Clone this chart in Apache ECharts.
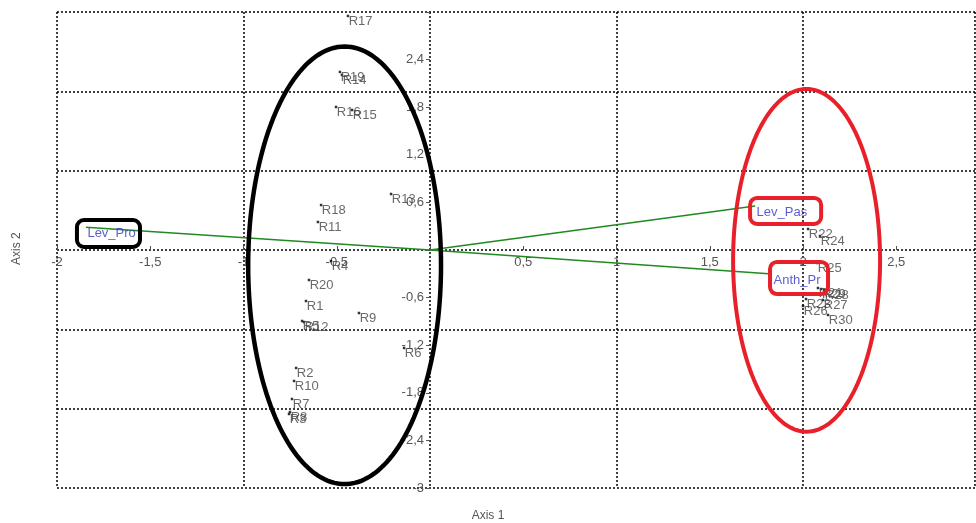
<!DOCTYPE html>
<html>
<head>
<meta charset="utf-8">
<script src="https://cdn.jsdelivr.net/npm/echarts@6/dist/echarts.min.js"></script>
<style>
  html, body { margin: 0; padding: 0; background: #fff; }
  #chart { width: 976px; height: 523px; }
</style>
</head>
<body>
<div id="chart"></div>
<script>
// Observation scores on the first two axes
const obsNames = ['R1','R2','R3','R4','R5','R6','R7','R8','R9','R10',
                  'R11','R12','R13','R14','R15','R16','R17','R18','R19','R20',
                  'R21','R22','R23','R24','R25','R26','R27','R28','R29','R30'];
const axis1Scores = [-0.665,-0.718,-0.756,-0.531,-0.686,-0.139,-0.740,-0.751,-0.381,-0.729,
                     -0.601,-0.676,-0.209,-0.472,-0.418,-0.504,-0.440,-0.584,-0.483,-0.649,
                      2.080, 2.027, 2.016, 2.091, 2.075, 2.000, 2.107, 2.113, 2.097, 2.134];
const axis2Scores = [-0.643,-1.487,-2.067,-0.139,-0.895,-1.235,-1.878,-2.042,-0.794,-1.651,
                      0.353,-0.908, 0.706, 2.206, 1.765, 1.803, 2.950, 0.567, 2.244,-0.378,
                     -0.479, 0.265,-0.618, 0.176,-0.164,-0.706,-0.630,-0.504,-0.492,-0.819];

// Variable loadings (arrows from the origin)
const varNames = ['Lev_Pro', 'Lev_Pas', 'Anth_Pr'];
const varAxis1 = [-1.845, 1.743, 1.834];
const varAxis2 = [0.286, 0.555, -0.303];

// Axis ranges and tick steps
const xMin = -2, xMax = 2.922, xLabelStep = 0.5, xGridStep = 1;
const yMin = -3, yMax = 3, yLabelStep = 0.6, yGridStep = 1;

// Highlighted groups: ellipses [cx, cy, rx, ry] and boxes [x0, y0, x1, y1] in axis units
const blackEllipses = [[-0.458, -0.193, 0.517, 2.758]];
const redEllipses = [[2.019, -0.130, 0.394, 2.160]];
const blackBoxes = [[-1.893, 0.378, -1.555, 0.038]];
const redBoxes = [[1.716, 0.656, 2.097, 0.328], [1.823, -0.151, 2.134, -0.555]];

// Plot layout
const W = 976, H = 523;
const gridBox = { left: 57, right: 1, top: 12, bottom: 35 };
const plotW = W - gridBox.left - gridBox.right;
const plotH = H - gridBox.top - gridBox.bottom;
// Axes cross at the origin: shift them from the plot edges to zero
const yAxisShift = -plotW * (0 - xMin) / (xMax - xMin);
const xAxisShift = -plotH * (0 - yMin) / (yMax - yMin);

const chart = echarts.init(document.getElementById('chart'));

const fmt = v => String(+v.toFixed(2)).replace('.', ',');
const FONT = 'Liberation Sans, Arial';

function ellipseItem(params, api, color, width) {
  const c = api.coord([api.value(0), api.value(1)]);
  const s = api.size([api.value(2), api.value(3)]);
  const pts = [];
  for (let i = 0; i < 180; i++) {
    const t = i / 180 * Math.PI * 2;
    pts.push([c[0] + s[0] * Math.cos(t), c[1] + s[1] * Math.sin(t)]);
  }
  return { type: 'polygon', shape: { points: pts },
           style: { fill: null, stroke: color, lineWidth: width } };
}
function boxItem(params, api, color, width) {
  const p0 = api.coord([api.value(0), api.value(1)]);
  const p1 = api.coord([api.value(2), api.value(3)]);
  return { type: 'rect',
           shape: { x: Math.min(p0[0], p1[0]), y: Math.min(p0[1], p1[1]),
                    width: Math.abs(p1[0] - p0[0]), height: Math.abs(p1[1] - p0[1]), r: 7 },
           style: { fill: null, stroke: color, lineWidth: width } };
}

const dotted = { color: '#000', width: 1.5, type: [2, 2] };
const gridLine = { show: true, lineStyle: dotted };
const labelColor = '#555';

const obsData = obsNames.map((n, i) => ({ name: n, value: [axis1Scores[i], axis2Scores[i]] }));
const vecSeries = varNames.map((n, i) => ({
  type: 'line', xAxisIndex: 0, yAxisIndex: 0,
  data: [[0, 0], [varAxis1[i], varAxis2[i]]],
  symbol: 'none', silent: true, z: 3,
  lineStyle: { color: '#1f8a1f', width: 1.5 }
}));

chart.setOption({
  animation: false,
  backgroundColor: '#fff',
  grid: gridBox,
  xAxis: [
    { type: 'value', min: xMin, max: xMax, interval: xLabelStep, position: 'bottom',
      offset: xAxisShift,
      splitLine: { show: false },
      axisLine: { show: false, onZero: false },
      axisTick: { show: true, inside: true, length: 4, lineStyle: { color: '#555' } },
      axisLabel: { color: labelColor, fontSize: 13, fontFamily: FONT, margin: 6,
                   showMaxLabel: false,
                   formatter: v => (Math.abs(v) < 1e-9 || v > 2.6) ? '' : fmt(v) } },
    { type: 'value', min: xMin, max: xMax, interval: xGridStep, position: 'bottom',
      splitLine: gridLine, axisLine: { show: false }, axisTick: { show: false },
      axisLabel: { show: false } }
  ],
  yAxis: [
    { type: 'value', min: yMin, max: yMax, interval: yLabelStep, position: 'left',
      offset: yAxisShift,
      splitLine: { show: false },
      axisLine: { show: false, onZero: false },
      axisTick: { show: true, inside: false, length: 4, lineStyle: { color: '#555' } },
      axisLabel: { color: labelColor, fontSize: 13, fontFamily: FONT, margin: 6,
                   formatter: v => (Math.abs(v) < 1e-9 || v > 2.9) ? '' : fmt(v) } },
    { type: 'value', min: yMin, max: yMax, interval: yGridStep, position: 'left',
      splitLine: gridLine, axisLine: { show: false }, axisTick: { show: false },
      axisLabel: { show: false } }
  ],
  graphic: [
    { type: 'text', left: 'center', bottom: 1,
      style: { text: 'Axis 1', fill: labelColor, font: '12px "Liberation Sans", Arial' } },
    { type: 'text', x: 11, y: 265, rotation: Math.PI / 2,
      style: { text: 'Axis 2', fill: labelColor, font: '12px "Liberation Sans", Arial' } }
  ],
  series: [
    ...vecSeries,
    { type: 'scatter', xAxisIndex: 0, yAxisIndex: 0, z: 4,
      data: obsData, symbol: 'rect', symbolSize: 2.5,
      itemStyle: { color: '#000' },
      label: { show: true, formatter: p => p.name, position: [2, 0],
               align: 'left', verticalAlign: 'top',
               color: '#444', fontSize: 13, fontFamily: FONT } },
    { type: 'scatter', xAxisIndex: 0, yAxisIndex: 0, z: 5,
      data: varNames.map((n, i) => ({ name: n, value: [varAxis1[i], varAxis2[i]] })),
      symbolSize: 1, itemStyle: { color: 'rgba(0,0,0,0)' },
      label: { show: true, formatter: p => p.name, position: [2, 0],
               align: 'left', verticalAlign: 'top',
               color: '#3535c8', fontSize: 13, fontFamily: FONT } },
    { type: 'custom', xAxisIndex: 0, yAxisIndex: 0, z: 10, clip: false, silent: true,
      data: blackEllipses, renderItem: (p, api) => ellipseItem(p, api, '#000', 4.5) },
    { type: 'custom', xAxisIndex: 0, yAxisIndex: 0, z: 10, clip: false, silent: true,
      data: redEllipses, renderItem: (p, api) => ellipseItem(p, api, '#e8202a', 4) },
    { type: 'custom', xAxisIndex: 0, yAxisIndex: 0, z: 10, clip: false, silent: true,
      data: blackBoxes, renderItem: (p, api) => boxItem(p, api, '#000', 4) },
    { type: 'custom', xAxisIndex: 0, yAxisIndex: 0, z: 10, clip: false, silent: true,
      data: redBoxes, renderItem: (p, api) => boxItem(p, api, '#e8202a', 4) }
  ]
});
</script>
</body>
</html>
